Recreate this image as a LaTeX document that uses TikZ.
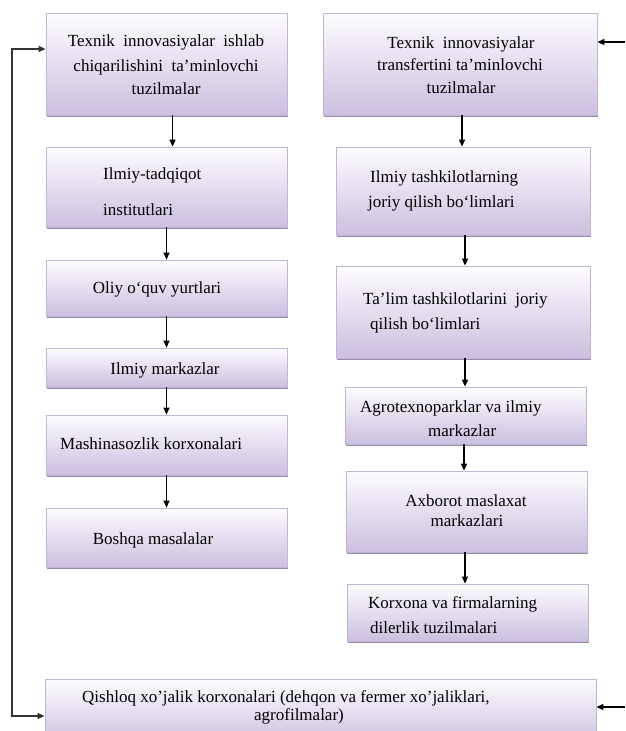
\documentclass[tikz,border=0pt]{standalone}
\usepackage{fontspec}
\setmainfont{Liberation Serif}
\usetikzlibrary{arrows.meta,shadows,calc}
\definecolor{boxbot}{RGB}{204,191,224}
\definecolor{boxtop}{RGB}{253,252,254}
\definecolor{boxline}{RGB}{194,182,214}
\definecolor{boxshadow}{RGB}{140,126,160}
\tikzset{
  box/.style={rectangle, draw=boxline, line width=0.8pt, top color=boxtop, bottom color=boxbot,
    drop shadow={shadow xshift=1.2pt, shadow yshift=-2pt, fill=boxshadow, opacity=0.9},
    inner sep=0pt},
  txt/.style={font=\fontsize{17}{20}\selectfont, inner sep=0pt, text=black},
  arr/.style={draw=black, line width=1.3pt, -{Triangle[length=7pt,width=6pt]}},
  darr/.style={draw=black!80, line width=1.3pt, {Triangle[length=7pt,width=6pt]}-{Triangle[length=7pt,width=6pt]}}
}
\begin{document}
\begin{tikzpicture}[x=1pt,y=-1pt]
\useasboundingbox (0,0) rectangle (625,731);
% left column boxes
\node[box, minimum width=241pt, minimum height=102pt] (L1) at (166.5,64) {};
\node[box, minimum width=241pt, minimum height=80pt] (L2) at (166.5,187) {};
\node[box, minimum width=241pt, minimum height=56pt] (L3) at (166.5,288) {};
\node[box, minimum width=241pt, minimum height=39pt] (L4) at (166.5,367.5) {};
\node[box, minimum width=241pt, minimum height=60pt] (L5) at (166.5,445) {};
\node[box, minimum width=241pt, minimum height=59pt] (L6) at (166.5,537.5) {};
% right column boxes
\node[box, minimum width=274pt, minimum height=102pt] (R1) at (460,64) {};
\node[box, minimum width=254pt, minimum height=88pt] (R2) at (463,191) {};
\node[box, minimum width=254pt, minimum height=92pt] (R3) at (463,312) {};
\node[box, minimum width=241pt, minimum height=57pt] (R4) at (465.5,415.5) {};
\node[box, minimum width=241pt, minimum height=81pt] (R5) at (466.5,511.5) {};
\node[box, minimum width=241pt, minimum height=57pt] (R6) at (467.5,612.5) {};
% bottom box
\node[box, minimum width=551pt, minimum height=66pt] (B) at (320.5,712) {};

% texts
\node[txt, anchor=base] (t1a) at (166,46) {Texnik\ \ innovasiyalar\ \ ishlab};
\node[txt, anchor=base] (t1b) at (166,71) {chiqarilishini\ \ ta’minlovchi};
\node[txt, anchor=base] (t1c) at (166,94) {tuzilmalar};
\node[txt, anchor=base west] (t2a) at (103,179) {Ilmiy-tadqiqot};
\node[txt, anchor=base west] (t2b) at (103,215) {institutlari};
\node[txt, anchor=base] (t3) at (157,293) {Oliy o‘quv yurtlari};
\node[txt, anchor=base] (t4) at (165,374) {Ilmiy markazlar};
\node[txt, anchor=base west] (t5) at (60,449) {Mashinasozlik korxonalari};
\node[txt, anchor=base] (t6) at (153,544) {Boshqa masalalar};

\node[txt, anchor=base] (s1a) at (461,48) {Texnik\ \ innovasiyalar};
\node[txt, anchor=base] (s1b) at (460,70) {transfertini ta’minlovchi};
\node[txt, anchor=base] (s1c) at (461,93) {tuzilmalar};
\node[txt, anchor=base west] (s2a) at (370,182) {Ilmiy tashkilotlarning};
\node[txt, anchor=base west] (s2b) at (368,207) {joriy qilish bo‘limlari};
\node[txt, anchor=base west] (s3a) at (363,304) {Ta’lim tashkilotlarini\ \ joriy};
\node[txt, anchor=base west] (s3b) at (370,329) {qilish bo‘limlari};
\node[txt, anchor=base west] (s4a) at (360,412) {Agrotexnoparklar va ilmiy};
\node[txt, anchor=base west] (s4b) at (428,436) {markazlar};
\node[txt, anchor=base] (s5a) at (466,506) {Axborot maslaxat};
\node[txt, anchor=base] (s5b) at (467,526) {markazlari};
\node[txt, anchor=base west] (s6a) at (368,608) {Korxona va firmalarning};
\node[txt, anchor=base west] (s6b) at (370,633) {dilerlik tuzilmalari};

\node[txt, anchor=base west] (ba) at (82,702) {Qishloq xo’jalik korxonalari (dehqon va fermer xo’jaliklari,};
\node[txt, anchor=base] (bb) at (299,720) {agrofilmalar)};

% vertical arrows, left column
\draw[arr] ([xshift=6pt]L1.south) -- ([xshift=6pt]L1.south |- L2.north);
\draw[arr] (L2.south) -- (L3.north);
\draw[arr] (L3.south) -- (L4.north);
\draw[arr] (L4.south) -- (L5.north);
\draw[arr] (L5.south) -- (L6.north);
% vertical arrows, right column
\draw[arr] ([xshift=2pt]R1.south) -- ([xshift=2pt]R1.south |- R2.north);
\draw[arr] ([xshift=2pt]R2.south) -- ([xshift=2pt]R2.south |- R3.north);
\draw[arr] ([xshift=2pt]R3.south) -- ([xshift=2pt]R3.south |- R4.north);
\draw[arr] ([xshift=-1.5pt]R4.south) -- ([xshift=-1.5pt]R4.south |- R5.north);
\draw[arr] ([xshift=-1.5pt]R5.south) -- ([xshift=-1.5pt]R5.south |- R6.north);

% feedback loop on the left
\coordinate (c1) at (12,49);
\coordinate (c2) at (12,716);
\draw[darr] (L1.west |- c1) -- (c1) -- (c2) -- (B.west |- c2);
% incoming arrows from the right
\coordinate (r1) at (625,42);
\coordinate (r2) at (625,707);
\draw[arr] (r1) -- (R1.east |- r1);
\draw[arr] (r2) -- (B.east |- r2);
\end{tikzpicture}
\end{document}
